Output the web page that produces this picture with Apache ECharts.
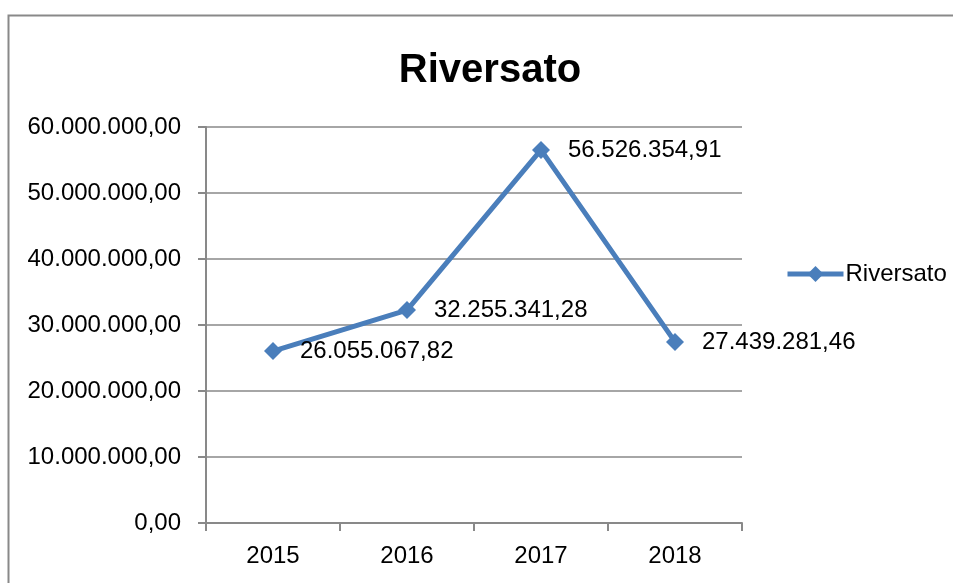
<!DOCTYPE html>
<html>
<head>
<meta charset="utf-8">
<script src="https://cdn.jsdelivr.net/npm/echarts@6/dist/echarts.min.js"></script>
<style>
html, body { margin: 0; padding: 0; background: #fff; }
#chart { width: 953px; height: 583px; }
</style>
</head>
<body>
<div id="chart"></div>
<script>
var years = ['2015', '2016', '2017', '2018'];
var riversato = [26055067.82, 32255341.28, 56526354.91, 27439281.46];
var yTicks = [0, 10000000, 20000000, 30000000, 40000000, 50000000, 60000000];

// formato italiano: 1.234.567,89
function fmtIt(v) {
	var parts = Number(v).toFixed(2).split('.');
	var intPart = parts[0].replace(/\B(?=(\d{3})+(?!\d))/g, '.');
	return intPart + ',' + parts[1];
}

var chart = echarts.init(document.getElementById('chart'));
var font = '"Liberation Sans", "DejaVu Sans", sans-serif';

var option = {
	backgroundColor: '#fff',
	animation: false,
	title: {
		text: 'Riversato',
		left: 485,
		top: 46,
		textAlign: 'center',
		textStyle: { fontFamily: font, fontSize: 40, fontWeight: 'bold', color: '#000' }
	},
	graphic: [{
		type: 'rect',
		shape: { x: 8.5, y: 15.5, width: 1000, height: 700 },
		style: { fill: 'none', stroke: '#898989', lineWidth: 2 },
		silent: true
	}],
	legend: {
		left: 785,
		top: 262,
		padding: 0,
		itemWidth: 56,
		itemHeight: 20,
		itemGap: 4,
		lineStyle: { width: 5 },
		textStyle: { fontFamily: font, fontSize: 24, color: '#000', padding: [0, 0, 0, -3] },
		data: ['Riversato']
	},
	grid: { left: 206, right: 211, top: 127, bottom: 60 },
	xAxis: {
		type: 'category',
		data: years,
		boundaryGap: true,
		axisLine: { lineStyle: { color: '#898989', width: 2 } },
		axisTick: { show: true, length: 8, alignWithLabel: false, lineStyle: { color: '#898989', width: 2 } },
		axisLabel: { margin: 21, fontFamily: font, fontSize: 24, color: '#000' }
	},
	yAxis: {
		type: 'value',
		min: yTicks[0],
		max: yTicks[yTicks.length - 1],
		interval: 10000000,
		axisLine: { show: true, lineStyle: { color: '#898989', width: 2 } },
		axisTick: { show: true, length: 8, lineStyle: { color: '#898989', width: 2 } },
		splitLine: { lineStyle: { color: '#898989', width: 1.5 } },
		axisLabel: { margin: 25, fontFamily: font, fontSize: 24, color: '#000', formatter: fmtIt }
	},
	series: [{
		name: 'Riversato',
		type: 'line',
		data: riversato,
		symbol: 'diamond',
		symbolSize: 18,
		itemStyle: { color: '#4A7EBB' },
		lineStyle: { color: '#4A7EBB', width: 5 },
		label: {
			show: true,
			position: 'right',
			distance: 18,
			fontFamily: font,
			fontSize: 24,
			color: '#000',
			formatter: function(p) { return fmtIt(p.value); }
		}
	}]
};

chart.setOption(option);
</script>
</body>
</html>
